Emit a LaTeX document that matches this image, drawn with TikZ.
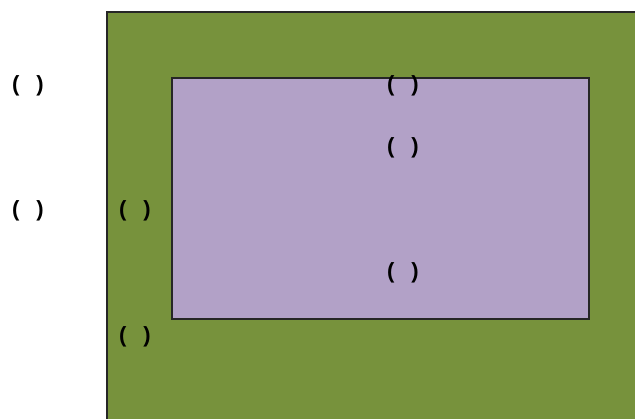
\documentclass[tikz,border=0pt]{standalone}
\usepackage{fontspec}
\setmainfont{Liberation Sans}
\definecolor{outergreen}{HTML}{77923C}
\definecolor{innerpurple}{HTML}{B2A1C7}
\begin{document}
\begin{tikzpicture}[x=1pt,y=-1pt,
  region/.style={draw=black!85,line width=1.2pt},
  lbl/.style={font=\fontsize{22}{22}\selectfont\bfseries,inner sep=0pt,text=black}]
\useasboundingbox (0,0) rectangle (635,419);
\fill[white] (0,0) rectangle (635,419);
\draw[region,fill=outergreen] (107,12) rectangle (645,430);
\draw[region,fill=innerpurple] (172,78) rectangle (589,319);
\node[lbl] (l1) at (28,86) {(\hspace{17pt})};
\node[lbl] (l2) at (28,211) {(\hspace{17pt})};
\node[lbl] (l3) at (403,86) {(\hspace{17pt})};
\node[lbl] (l4) at (403,148) {(\hspace{17pt})};
\node[lbl] (l5) at (135,211) {(\hspace{17pt})};
\node[lbl] (l6) at (403,273) {(\hspace{17pt})};
\node[lbl] (l7) at (135,337) {(\hspace{17pt})};
\end{tikzpicture}
\end{document}
